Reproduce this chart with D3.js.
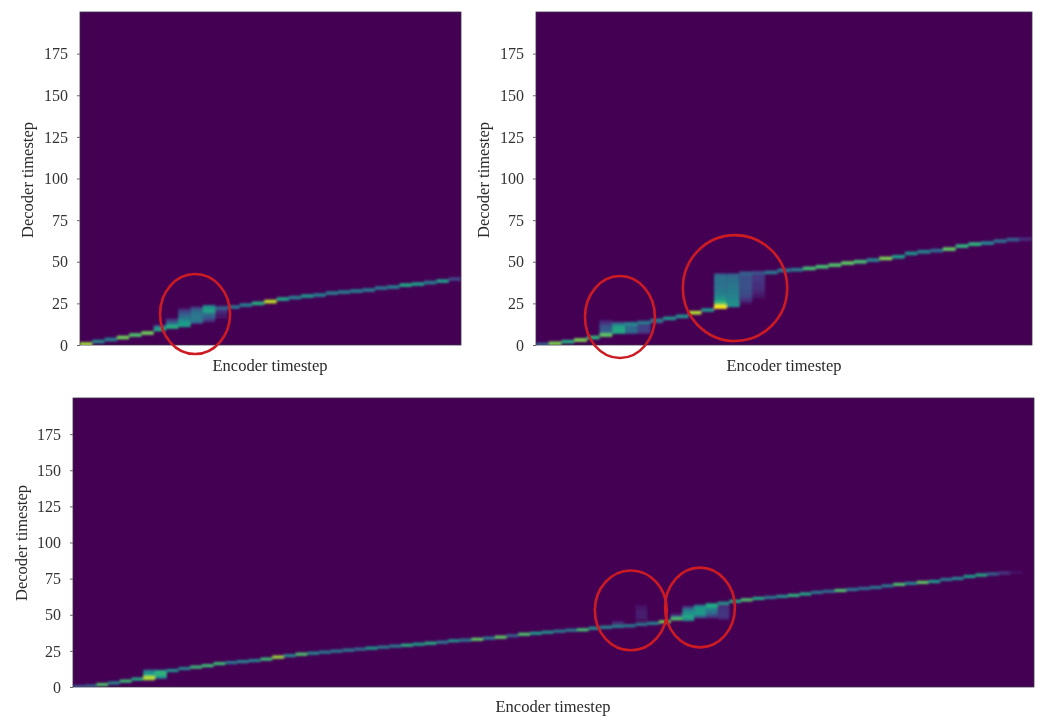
<!DOCTYPE html>
<html>
<head>
<meta charset="utf-8">
<script src="https://cdnjs.cloudflare.com/ajax/libs/d3/7.8.5/d3.min.js"></script>
<style>
  html, body { margin: 0; background: #fff; }
  svg { display: block; }
  text { font-family: "Liberation Serif", serif; fill: #2a2a2a; }
</style>
</head>
<body>
<script>
// tick labels and axis names
const yTicks = [0, 25, 50, 75, 100, 125, 150, 175];
const xName = "Encoder timestep";
const yName = "Decoder timestep";

// panel 1: main alignment path, one decoder value + weight per encoder step
const decoder1 = [0.6, 2.1, 3.3, 4.5, 6, 7.2, 9.3, 10.8, 13, 15, 20.5, 22.2, 22.8, 24, 25, 26.1, 27.6, 28.5, 29.4, 30, 31.2, 31.8, 32.4, 33, 34.2, 34.8, 36, 36.6, 37.5, 38.4, 39.6];
const weight1 = [0.85, 0.45, 0.42, 0.78, 0.72, 0.78, 0.58, 0.62, 0.55, 0.4, 0.58, 0.3, 0.38, 0.42, 0.62, 0.9, 0.58, 0.42, 0.52, 0.42, 0.4, 0.4, 0.42, 0.4, 0.38, 0.42, 0.6, 0.55, 0.4, 0.55, 0.2];
// panel 1: vertical spread of attention [encoder step, first decoder row, row weights]
const spread1 = [
  [6, 10, [0.45, 0.25]],
  [7, 11, [0.55, 0.45, 0.35, 0.22, 0.12]],
  [8, 11, [0.55, 0.58, 0.55, 0.5, 0.45, 0.4, 0.35, 0.3, 0.26, 0.2, 0.12]],
  [9, 13, [0.25, 0.32, 0.38, 0.4, 0.4, 0.4, 0.38, 0.34, 0.28, 0.2]],
  [10, 14, [0.12, 0.2, 0.26, 0.32, 0.35, 0.4, 0.45, 0.55, 0.55, 0.45]],
  [11, 16, [0.05, 0.06, 0.08, 0.1, 0.12, 0.13, 0.13]]
];

// panel 2
const decoder2 = [0.3, 1, 2, 3, 4.5, 6, 8, 12.5, 13.5, 14.8, 16, 17.2, 19.4, 21, 23, 24, 43, 43.3, 43.6, 44.8, 45.2, 46, 47, 48, 49.2, 50, 51, 52, 53, 55, 56, 56.7, 57.6, 59.4, 60.6, 61.2, 62.4, 63.3, 63.6];
const weight2 = [0.3, 0.8, 0.6, 0.8, 0.65, 0.75, 0.6, 0.45, 0.4, 0.4, 0.5, 0.5, 0.88, 0.5, 0.98, 0.5, 0.3, 0.25, 0.4, 0.4, 0.4, 0.7, 0.7, 0.72, 0.75, 0.7, 0.45, 0.8, 0.55, 0.5, 0.45, 0.35, 0.75, 0.65, 0.65, 0.45, 0.35, 0.3, 0.12];
const spread2 = [
  [5, 7, [0.3, 0.3, 0.3, 0.28, 0.25, 0.2, 0.15, 0.1]],
  [6, 7, [0.4, 0.55, 0.6, 0.6, 0.55, 0.45, 0.25]],
  [7, 7, [0.3, 0.35, 0.35, 0.35, 0.32, 0.28, 0.2]],
  [8, 7, [0.12, 0.18, 0.2, 0.2, 0.2, 0.16, 0.12]],
  [9, 13, [0.1, 0.08]],
  [14, 22, [0.95, 0.92, 0.82, 0.72, 0.62, 0.55, 0.5, 0.47, 0.45, 0.42, 0.42, 0.4, 0.4, 0.38, 0.38, 0.38, 0.38, 0.38, 0.38, 0.36, 0.3]],
  [15, 23, [0.42, 0.48, 0.48, 0.48, 0.48, 0.46, 0.44, 0.44, 0.42, 0.42, 0.42, 0.4, 0.4, 0.4, 0.38, 0.38, 0.36, 0.36, 0.34, 0.3]],
  [16, 25, [0.06, 0.1, 0.14, 0.18, 0.2, 0.22, 0.24, 0.24, 0.24, 0.24, 0.25, 0.25, 0.25, 0.25, 0.25, 0.25, 0.25, 0.25, 0.25]],
  [17, 28, [0.03, 0.05, 0.07, 0.09, 0.1, 0.12, 0.13, 0.14, 0.14, 0.14, 0.15, 0.16, 0.16, 0.16, 0.16, 0.18]]
];

// panel 3
const decoder3 = [0.3, 0.7, 1.7, 2.8, 4.1, 5.5, 6.6, 10, 11.4, 12.8, 13.8, 14.8, 16.2, 16.9, 17.6, 18.3, 19.3, 20.7, 21.7, 22.7, 23.4, 24.1, 24.8, 25.5, 26.2, 26.9, 27.6, 28.3, 28.9, 29.6, 30.3, 31, 32, 32.4, 33, 33.8, 34.5, 35.5, 36.5, 37.2, 37.9, 38.6, 39.3, 39.6, 40.7, 41.4, 42, 42.4, 43.4, 44.1, 45.1, 47.2, 48.9, 51, 56, 58, 59.3, 60.3, 61.3, 62, 62.7, 63.4, 64.4, 65.5, 66.2, 66.8, 67.5, 68.2, 68.9, 70, 71, 71.7, 72.4, 73, 74.4, 75.1, 76.5, 77.5, 78.2, 78.9, 79.3];
const weight3 = [0.25, 0.3, 0.72, 0.45, 0.68, 0.6, 0.88, 0.65, 0.5, 0.45, 0.68, 0.68, 0.68, 0.4, 0.45, 0.45, 0.68, 0.85, 0.45, 0.72, 0.45, 0.4, 0.4, 0.4, 0.35, 0.55, 0.4, 0.4, 0.62, 0.55, 0.62, 0.4, 0.5, 0.4, 0.75, 0.4, 0.75, 0.3, 0.72, 0.55, 0.5, 0.4, 0.4, 0.7, 0.5, 0.45, 0.45, 0.4, 0.4, 0.45, 0.78, 0.72, 0.6, 0.55, 0.6, 0.5, 0.6, 0.72, 0.6, 0.4, 0.5, 0.65, 0.6, 0.4, 0.35, 0.72, 0.4, 0.35, 0.4, 0.4, 0.72, 0.45, 0.75, 0.55, 0.4, 0.45, 0.55, 0.6, 0.3, 0.15, 0.04];
const spread3 = [
  [6, 5, [0.85, 0.85, 0.72, 0.6, 0.55, 0.5, 0.4]],
  [7, 6, [0.4, 0.55, 0.65, 0.62, 0.58, 0.4]],
  [46, 44, [0.14, 0.08]],
  [48, 46, [0.05, 0.06, 0.07, 0.08, 0.08, 0.08, 0.08, 0.07, 0.06, 0.05, 0.04]],
  [51, 48, [0.3, 0.2, 0.1]],
  [52, 46, [0.5, 0.5, 0.5, 0.5, 0.5, 0.5, 0.5, 0.42, 0.3, 0.18]],
  [53, 48, [0.3, 0.35, 0.4, 0.45, 0.5, 0.55, 0.55, 0.52, 0.4]],
  [54, 48, [0.15, 0.22, 0.28, 0.35, 0.4, 0.4, 0.45, 0.55, 0.6, 0.6]],
  [55, 47, [0.1, 0.14, 0.16, 0.16, 0.16, 0.16, 0.16, 0.16, 0.14, 0.1]]
];

// red circles drawn on the picture [encoder, decoder, encoder radius, decoder radius]
const circles1 = [[9.36, 18.6, 2.85, 24]];
const circles2 = [[6.6, 16.8, 2.75, 24.6], [15.65, 34.2, 4.1, 31.8]];
const circles3 = [[47.6, 53, 3.07, 27.6], [53.5, 55, 2.98, 27.6]];

const w = 1038;
const h = 716;

const svg = d3.select("body").append("svg")
  .attr("width", w)
  .attr("height", h);

const defs = svg.append("defs");
defs.append("filter").attr("id", "soft")
  .attr("x", "-5%").attr("y", "-5%").attr("width", "110%").attr("height", "110%")
  .append("feGaussianBlur").attr("stdDeviation", 1);
// the source picture is a slightly soft scan, text and circles too
defs.append("filter").attr("id", "scan")
  .attr("x", "-5%").attr("y", "-5%").attr("width", "110%").attr("height", "110%")
  .append("feGaussianBlur").attr("stdDeviation", 0.4);

const color = d3.scaleSequential(d3.interpolateViridis).domain([0, 1]);

function drawPanel(id, box, steps, decoder, weight, spread, circles, titleX, titleY, nameX, nameY) {
  const x = d3.scaleLinear().domain([0, steps]).range([box.left, box.right]);
  const y = d3.scaleLinear().domain([0, 200]).range([box.bottom, box.top]);

  const g = svg.append("g").attr("id", id);

  defs.append("clipPath").attr("id", id + "-clip")
    .append("rect")
    .attr("x", box.left).attr("y", box.top)
    .attr("width", box.right - box.left).attr("height", box.bottom - box.top);

  g.append("rect")
    .attr("x", box.left).attr("y", box.top)
    .attr("width", box.right - box.left).attr("height", box.bottom - box.top)
    .attr("fill", color(0))
    .attr("stroke", "#3c3048")
    .attr("stroke-width", 0.8);

  // one small cell per decoder row of the spread blocks
  const cells = [];
  spread.forEach(s => s[2].forEach((v, i) => cells.push({ enc: s[0], dec: s[1] + i, v: v })));

  const heat = g.append("g")
    .attr("clip-path", "url(#" + id + "-clip)")
    .append("g")
    .attr("filter", "url(#soft)");

  heat.selectAll("rect.cell")
    .data(cells)
    .enter()
    .append("rect")
    .attr("class", "cell")
    .attr("x", d => x(d.enc))
    .attr("y", d => y(d.dec + 1))
    .attr("width", x(1) - x(0))
    .attr("height", y(0) - y(1) + 0.5)
    .attr("fill", d => color(d.v));

  heat.selectAll("rect.step")
    .data(decoder)
    .enter()
    .append("rect")
    .attr("class", "step")
    .attr("x", (d, i) => x(i))
    .attr("y", d => y(d + 1.1))
    .attr("width", x(1) - x(0))
    .attr("height", y(0) - y(2.2))
    .attr("fill", (d, i) => color(weight[i]));

  const axis = d3.axisLeft(y).tickValues(yTicks).tickSize(3).tickPadding(9);
  const axisG = g.append("g")
    .attr("transform", "translate(" + box.left + ",0)")
    .call(axis);
  axisG.select(".domain").remove();
  axisG.selectAll("line").attr("stroke", "#666");
  axisG.selectAll("text")
    .attr("filter", "url(#scan)")
    .style("font-family", '"Liberation Serif", serif')
    .style("font-size", "16px")
    .style("fill", "#333");

  g.append("text")
    .attr("transform", "translate(" + titleX + "," + titleY + ") rotate(-90)")
    .attr("text-anchor", "middle")
    .attr("filter", "url(#scan)")
    .style("font-size", "16.5px")
    .text(yName);

  g.append("text")
    .attr("x", nameX)
    .attr("y", nameY)
    .attr("text-anchor", "middle")
    .attr("filter", "url(#scan)")
    .style("font-size", "16.5px")
    .text(xName);

  g.selectAll("ellipse")
    .data(circles)
    .enter()
    .append("ellipse")
    .attr("cx", d => x(d[0]))
    .attr("cy", d => y(d[1]))
    .attr("rx", d => x(d[2]) - x(0))
    .attr("ry", d => y(0) - y(d[3]))
    .attr("fill", "none")
    .attr("stroke", "#cc1a24")
    .attr("stroke-width", 2.6)
    .attr("filter", "url(#scan)");
}

drawPanel("top-left", { left: 80, right: 461, top: 12, bottom: 345 }, 31, decoder1, weight1, spread1, circles1, 33, 180, 270, 371);
drawPanel("top-right", { left: 536, right: 1032, top: 12, bottom: 345 }, 39, decoder2, weight2, spread2, circles2, 489, 180, 784, 371);
drawPanel("bottom", { left: 73, right: 1034, top: 398, bottom: 687 }, 82, decoder3, weight3, spread3, circles3, 27, 543, 553, 712);
</script>
</body>
</html>
